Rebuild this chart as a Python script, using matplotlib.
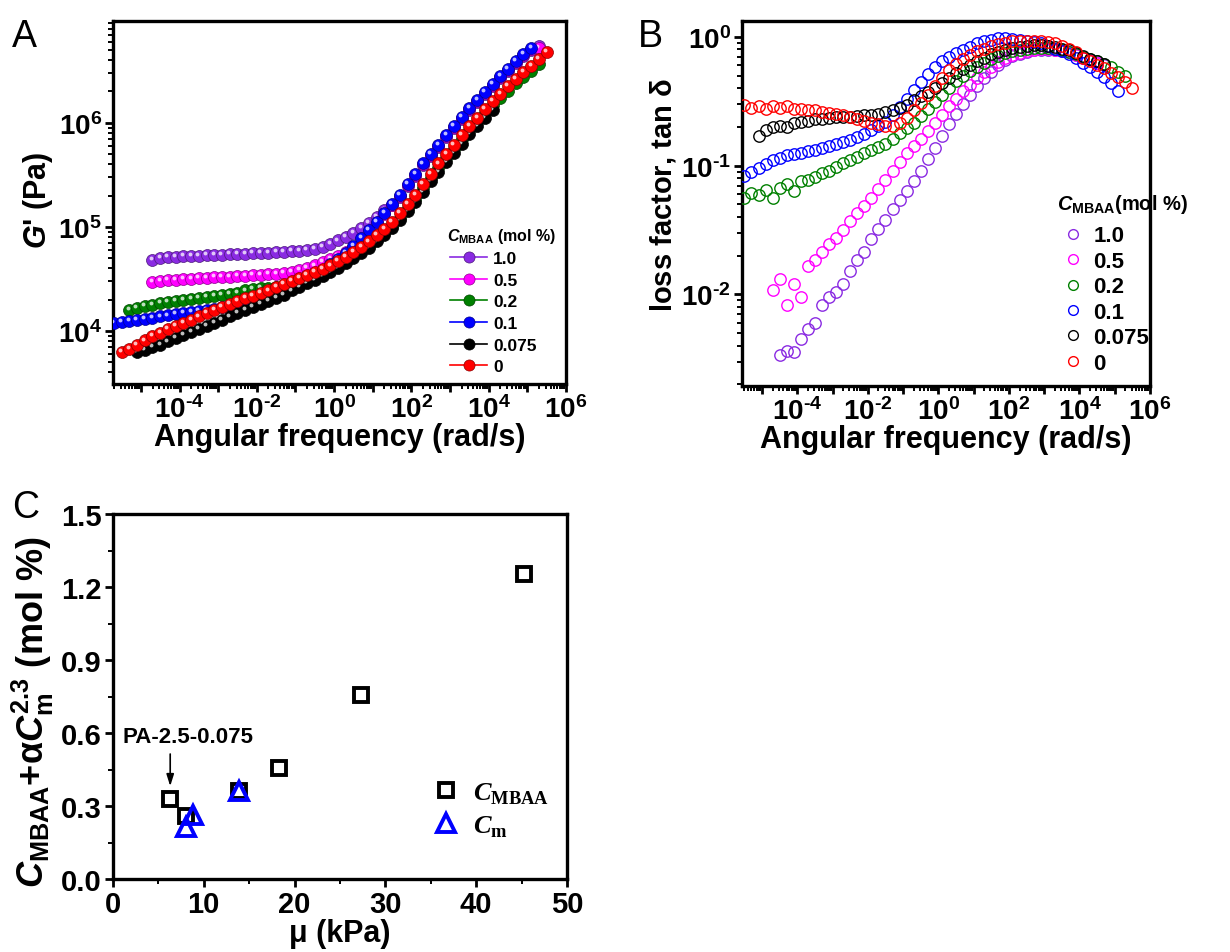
import numpy as np
import matplotlib
matplotlib.use("Agg")
import matplotlib.pyplot as plt
from matplotlib.lines import Line2D
from matplotlib import ticker, transforms
from matplotlib.colors import to_rgb

plt.rcParams['font.family'] = ['Liberation Sans', 'DejaVu Sans']
plt.rcParams['font.weight'] = 'bold'
plt.rcParams['mathtext.fontset'] = 'custom'
plt.rcParams['mathtext.rm'] = 'Liberation Sans:bold'
plt.rcParams['mathtext.bf'] = 'Liberation Sans:bold'
plt.rcParams['mathtext.it'] = 'Liberation Sans:bold:italic'
plt.rcParams['mathtext.cal'] = 'Liberation Serif:italic'
plt.rcParams['mathtext.tt'] = 'Liberation Serif:bold'

# shared log10 angular frequency column (rad/s)
LOGW = [-5.7, -5.5, -5.3, -5.1, -4.9, -4.7, -4.5, -4.3, -4.1, -3.9,
        -3.7, -3.5, -3.3, -3.1, -2.9, -2.7, -2.5, -2.3, -2.1, -1.9,
        -1.7, -1.5, -1.3, -1.1, -0.9, -0.7, -0.5, -0.3, -0.1, 0.1,
        0.3, 0.5, 0.7, 0.9, 1.1, 1.3, 1.5, 1.7, 1.9, 2.1,
        2.3, 2.5, 2.7, 2.9, 3.1, 3.3, 3.5, 3.7, 3.9, 4.1,
        4.3, 4.5, 4.7, 4.9, 5.1, 5.3, 5.5]

labels = ['1.0', '0.5', '0.2', '0.1', '0.075', '0']
colors = ['#8a2be2', '#ff00ff', '#008000', '#0000ff', '#000000', '#ff0000']

# panel A: log10 G' (Pa)
logG_10 = [None, None, None, None, None, 4.68, 4.70, 4.71, 4.71, 4.72,
           4.72, 4.72, 4.73, 4.73, 4.73, 4.74, 4.74, 4.74, 4.75, 4.75,
           4.75, 4.76, 4.76, 4.77, 4.77, 4.78, 4.79, 4.81, 4.84, 4.87,
           4.90, 4.94, 4.99, 5.04, 5.10, 5.16, 5.21, 5.29, 5.39, 5.49,
           5.59, 5.68, 5.77, 5.86, 5.95, 6.04, 6.12, 6.20, 6.28, 6.35,
           6.43, 6.50, 6.57, 6.64, 6.70, 6.74, None]
logG_05 = [None, None, None, None, None, 4.47, 4.48, 4.49, 4.49, 4.50,
           4.50, 4.51, 4.51, 4.52, 4.52, 4.52, 4.53, 4.53, 4.54, 4.54,
           4.55, 4.55, 4.56, 4.57, 4.59, 4.61, 4.63, 4.66, 4.69, 4.72,
           4.76, 4.81, 4.88, 4.96, 5.04, 5.12, 5.21, 5.30, 5.40, 5.50,
           5.60, 5.69, 5.78, 5.87, 5.96, 6.05, 6.13, 6.21, 6.29, 6.36,
           6.44, 6.51, 6.58, 6.65, 6.71, 6.72, None]
logG_02 = [None, None, 4.20, 4.22, 4.24, 4.25, 4.27, 4.28, 4.29, 4.30,
           4.31, 4.32, 4.33, 4.34, 4.35, 4.36, 4.37, 4.39, 4.40, 4.41,
           4.41, 4.42, 4.44, 4.46, 4.48, 4.51, 4.54, 4.57, 4.60, 4.64,
           4.68, 4.73, 4.77, 4.82, 4.88, 4.94, 5.01, 5.09, 5.18, 5.27,
           5.37, 5.47, 5.57, 5.66, 5.75, 5.84, 5.93, 6.01, 6.09, 6.17,
           6.24, 6.31, 6.38, 6.44, 6.50, 6.56, None]
logG_01 = [4.08, 4.09, 4.10, 4.11, 4.12, 4.13, 4.14, 4.15, 4.16, 4.17,
           4.18, 4.19, 4.20, 4.21, 4.23, 4.25, 4.27, 4.29, 4.31, 4.33,
           4.36, 4.38, 4.41, 4.44, 4.47, 4.51, 4.55, 4.59, 4.64, 4.69,
           4.75, 4.82, 4.89, 4.97, 5.05, 5.13, 5.22, 5.31, 5.41, 5.51,
           5.61, 5.70, 5.79, 5.88, 5.97, 6.06, 6.14, 6.22, 6.30, 6.37,
           6.45, 6.52, 6.59, 6.66, 6.72, None, None]
logG_0075 = [None, None, None, 3.80, 3.82, 3.85, 3.87, 3.90, 3.93, 3.96,
             3.99, 4.02, 4.05, 4.08, 4.11, 4.14, 4.17, 4.20, 4.23, 4.26,
             4.29, 4.32, 4.35, 4.39, 4.42, 4.46, 4.49, 4.53, 4.57, 4.61,
             4.65, 4.70, 4.75, 4.80, 4.86, 4.92, 4.99, 5.07, 5.15, 5.24,
             5.34, 5.44, 5.53, 5.62, 5.71, 5.80, 5.89, 5.97, 6.05, 6.12,
             None, None, None, None, None, None, None]
logG_0 = [None, 3.80, 3.83, 3.87, 3.91, 3.95, 3.98, 4.02, 4.05, 4.08,
          4.11, 4.14, 4.17, 4.20, 4.23, 4.26, 4.29, 4.32, 4.34, 4.37,
          4.39, 4.42, 4.45, 4.48, 4.51, 4.54, 4.57, 4.60, 4.63, 4.67,
          4.71, 4.76, 4.81, 4.86, 4.92, 4.98, 5.05, 5.13, 5.22, 5.31,
          5.41, 5.51, 5.61, 5.70, 5.79, 5.88, 5.97, 6.05, 6.13, 6.21,
          6.28, 6.35, 6.42, 6.49, 6.55, 6.61, 6.68]

# panel B: log10 tan delta
logT_10 = [None, None, None, None, None, None, -2.47, -2.44, -2.45, -2.35,
           -2.27, -2.22, -2.08, -2.02, -1.98, -1.92, -1.82, -1.73, -1.67, -1.57,
           -1.49, -1.42, -1.34, -1.27, -1.20, -1.12, -1.04, -0.95, -0.86, -0.77,
           -0.68, -0.60, -0.52, -0.45, -0.38, -0.32, -0.27, -0.22, -0.18, -0.15,
           -0.13, -0.115, -0.105, -0.10, -0.10, -0.103, -0.11, -0.12, -0.14, -0.16,
           -0.18, -0.20, -0.22, None, None, None, None]
logT_05 = [None, None, None, None, None, -1.97, -1.88, -2.08, -1.92, -2.02,
           -1.78, -1.73, -1.67, -1.61, -1.56, -1.50, -1.43, -1.37, -1.31, -1.25,
           -1.18, -1.11, -1.04, -0.97, -0.905, -0.85, -0.79, -0.73, -0.67, -0.61,
           -0.54, -0.48, -0.42, -0.37, -0.32, -0.27, -0.23, -0.195, -0.165, -0.14,
           -0.122, -0.108, -0.10, -0.095, -0.095, -0.10, -0.107, -0.12, -0.14, -0.16,
           -0.18, -0.20, None, None, None, None, None]
logT_02 = [None, -1.25, -1.21, -1.23, -1.19, -1.25, -1.17, -1.14, -1.20, -1.12,
           -1.11, -1.09, -1.06, -1.04, -1.01, -0.98, -0.955, -0.93, -0.905, -0.88,
           -0.855, -0.83, -0.795, -0.75, -0.71, -0.665, -0.615, -0.56, -0.505, -0.45,
           -0.395, -0.345, -0.30, -0.265, -0.23, -0.20, -0.17, -0.145, -0.125, -0.11,
           -0.10, -0.093, -0.088, -0.086, -0.087, -0.092, -0.10, -0.115, -0.135, -0.155,
           -0.17, -0.19, -0.21, -0.235, -0.27, -0.30, None]
logT_01 = [None, -1.08, -1.05, -1.02, -0.99, -0.96, -0.94, -0.92, -0.91, -0.90,
           -0.89, -0.88, -0.86, -0.845, -0.83, -0.815, -0.80, -0.78, -0.755, -0.72,
           -0.69, -0.66, -0.61, -0.545, -0.48, -0.41, -0.35, -0.29, -0.23, -0.19,
           -0.155, -0.125, -0.10, -0.08, -0.05, -0.035, -0.02, -0.012, -0.01, -0.014,
           -0.02, -0.028, -0.036, -0.05, -0.068, -0.09, -0.11, -0.135, -0.165, -0.20,
           -0.23, -0.27, -0.31, -0.36, -0.42, None, None]
logT_0075 = [None, None, None, -0.77, -0.72, -0.70, -0.69, -0.70, -0.67, -0.66,
             -0.65, -0.64, -0.635, -0.63, -0.625, -0.62, -0.62, -0.615, -0.61, -0.605,
             -0.595, -0.585, -0.57, -0.55, -0.525, -0.49, -0.46, -0.43, -0.40, -0.36,
             -0.32, -0.28, -0.25, -0.22, -0.19, -0.16, -0.135, -0.115, -0.10, -0.085,
             -0.075, -0.068, -0.064, -0.064, -0.068, -0.078, -0.09, -0.105, -0.125, -0.15,
             -0.17, -0.19, -0.21, None, None, None, None]
logT_0 = [None, -0.53, -0.55, -0.54, -0.56, -0.54, -0.55, -0.54, -0.56, -0.56,
          -0.57, -0.57, -0.58, -0.59, -0.60, -0.61, -0.62, -0.64, -0.65, -0.67,
          -0.68, -0.69, -0.69, -0.67, -0.63, -0.57, -0.51, -0.45, -0.38, -0.32,
          -0.26, -0.21, -0.17, -0.14, -0.11, -0.09, -0.07, -0.055, -0.045, -0.035,
          -0.03, -0.028, -0.029, -0.033, -0.04, -0.05, -0.07, -0.09, -0.12, -0.16,
          -0.19, -0.22, -0.24, -0.28, -0.31, -0.35, -0.40]

# panel C
mu_mbaa = [6.3, 8.0, 13.9, 18.3, 27.3, 45.3]
c_mbaa = [0.33, 0.26, 0.36, 0.455, 0.755, 1.255]
mu_m = [8.0, 8.85, 13.9]
c_m = [0.215, 0.263, 0.362]

G_series = [logG_10, logG_05, logG_02, logG_01, logG_0075, logG_0]
T_series = [logT_10, logT_05, logT_02, logT_01, logT_0075, logT_0]

W, H = 1230, 953
fig = plt.figure(figsize=(W / 100, H / 100), dpi=100)
axA = fig.add_axes([113 / W, 1 - 385 / H, 453 / W, 363 / H])
axB = fig.add_axes([742 / W, 1 - 387 / H, 408 / W, 365 / H])
axC = fig.add_axes([113 / W, 1 - 880 / H, 454 / W, 365 / H])

w = 10 ** np.array(LOGW)


def pow_label(e):
    if e < 0:
        return r'$\mathbf{10^{\text{-}%d}}$' % (-e)
    return r'$\mathbf{10^{%d}}$' % e


def even_pow(v, pos):
    e = int(round(np.log10(v)))
    if e % 2:
        return ''
    return pow_label(e)


def all_pow(v, pos):
    return pow_label(int(round(np.log10(v))))


def style_axes(ax):
    for s in ax.spines.values():
        s.set_linewidth(2.4)
    ax.tick_params(which='major', direction='out', length=6, width=2,
                   labelsize=20, pad=2)
    ax.tick_params(which='minor', direction='out', length=3.5, width=1.4)


def log_axes(ax):
    ax.set_xscale('log')
    ax.set_yscale('log')
    for axis in (ax.xaxis, ax.yaxis):
        axis.set_major_locator(ticker.LogLocator(base=10, subs=(1.0,), numticks=30))
        axis.set_minor_locator(ticker.LogLocator(base=10, subs=np.arange(2, 10), numticks=30))
        axis.set_minor_formatter(ticker.NullFormatter())
    ax.xaxis.set_major_formatter(ticker.FuncFormatter(even_pow))
    ax.yaxis.set_major_formatter(ticker.FuncFormatter(all_pow))


# ---------------- panel A ----------------
log_axes(axA)
axA.set_xlim(1.9e-6, 1e6)
axA.set_ylim(3.1e3, 9.5e6)
shine = transforms.offset_copy(axA.transData, fig=fig, x=-1.6, y=1.9, units='dots')
handlesA = []
for k, (vals, c) in enumerate(zip(G_series, colors)):
    g = 10 ** np.array(vals, dtype=float)
    dark = tuple(np.array(to_rgb(c)) * 0.55)
    axA.plot(w, g, ls='none', marker='o', ms=8.6, mfc=c, mec=dark, mew=0.5, zorder=2 + 2 * k)
    axA.plot(w, g, ls='none', marker='o', ms=2.8, mfc='white', mec='none', alpha=0.75,
             transform=shine, zorder=2.5 + 2 * k)
    handlesA.append(Line2D([], [], color=c, lw=1.2, marker='o', ms=8, mfc=c, mec=dark, mew=0.5))
style_axes(axA)
axA.set_xlabel('Angular frequency (rad/s)', fontsize=22, fontweight='bold', labelpad=-1)
axA.set_ylabel(r"$G$' (Pa)", fontsize=22, fontweight='bold', labelpad=2)
axA.yaxis.label.set_y(0.51)
axA.legend(handlesA, labels, loc='upper left', bbox_to_anchor=(0.744, 0.366),
           frameon=False, prop={'size': 12.5, 'weight': 'bold'},
           handlelength=2.13, handletextpad=0.35, labelspacing=0.37, borderpad=0, borderaxespad=0)
axA.text((447 - 113) / 453, (385 - 237) / 363, r'$C_{\mathbf{MBAA}}$ (mol %)', transform=axA.transAxes,
         fontsize=11.5, fontweight='bold', ha='left', va='center')

# ---------------- panel B ----------------
log_axes(axB)
axB.set_xlim(2.7e-6, 1e6)
axB.set_ylim(1.94e-3, 1.33)
handlesB = []
for k, (vals, c) in enumerate(zip(T_series, colors)):
    t = 10 ** np.array(vals, dtype=float)
    axB.plot(w, t, ls='none', marker='o', ms=8.2, mfc='none', mec=c, mew=1.0, zorder=2 + k)
    handlesB.append(Line2D([], [], ls='none', marker='o', ms=7, mfc='none', mec=c, mew=1.0))
style_axes(axB)
axB.set_xlabel('Angular frequency (rad/s)', fontsize=22, fontweight='bold', labelpad=-1)
axB.set_ylabel(r'loss factor, tan $\mathrm{\delta}$', fontsize=21, fontweight='bold', labelpad=2)
axB.yaxis.label.set_y(0.525)
axB.legend(handlesB, labels, loc='upper left', bbox_to_anchor=(0.779, 0.44),
           frameon=False, prop={'size': 16, 'weight': 'bold'},
           handlelength=1.2, handletextpad=0.3, labelspacing=0.2, borderpad=0, borderaxespad=0)
axB.text((1057 - 742) / 408, (387 - 205) / 365, r'$C_{\mathbf{MBAA}}$(mol %)', transform=axB.transAxes,
         fontsize=14.5, fontweight='bold', ha='left', va='center')

# ---------------- panel C ----------------
axC.plot(mu_mbaa, c_mbaa, ls='none', marker='s', ms=10, mfc='none', mec='black', mew=2.8, zorder=3)
axC.plot(mu_m, c_m, ls='none', marker='^', ms=13, mfc='none', mec='#0000ff', mew=2.8, zorder=4)
axC.set_xlim(0, 50)
axC.set_ylim(0, 1.5)
axC.xaxis.set_major_locator(ticker.MultipleLocator(10))
axC.xaxis.set_minor_locator(ticker.MultipleLocator(5))
axC.yaxis.set_major_locator(ticker.MultipleLocator(0.3))
axC.yaxis.set_minor_locator(ticker.MultipleLocator(0.15))
axC.yaxis.set_major_formatter(ticker.FormatStrFormatter('%.1f'))
style_axes(axC)
axC.tick_params(which='major', labelsize=21)
axC.set_xlabel('\u03bc (kPa)', fontsize=22, fontweight='bold', labelpad=0)
axC.set_ylabel(r'$C_{\mathbf{MBAA}}$+$\mathrm{\alpha}C_{\mathbf{m}}^{\mathbf{2.3}}$ (mol %)',
               fontsize=26, fontweight='bold', labelpad=4)
axC.yaxis.label.set_y(0.46)
axC.annotate('', xy=(6.3, 0.37), xytext=(6.3, 0.525),
             arrowprops=dict(arrowstyle='-|>,head_width=0.22,head_length=0.7', color='black', lw=1.2))
axC.text(8.3, 0.585, 'PA-2.5-0.075', ha='center', va='center', fontsize=16, fontweight='bold')
handlesC = [Line2D([], [], ls='none', marker='s', ms=10, mfc='none', mec='black', mew=2.8),
            Line2D([], [], ls='none', marker='^', ms=13, mfc='none', mec='#0000ff', mew=2.8)]
axC.legend(handlesC, [r'$\mathcal{C}_{\mathtt{MBAA}}$', r'$\mathcal{C}_{\mathtt{m}}$'],
           loc='center left', bbox_to_anchor=(0.698, 0.19), frameon=False,
           prop={'size': 19}, handlelength=1.2, handletextpad=0.45, labelspacing=0.3,
           borderpad=0, borderaxespad=0)

# panel letters
fig.text(12 / W, 1 - 47 / H, 'A', fontsize=27, fontweight='normal')
fig.text(638 / W, 1 - 47 / H, 'B', fontsize=27, fontweight='normal')
fig.text(12 / W, 1 - 518 / H, 'C', fontsize=27, fontweight='normal')

fig.savefig('out.png', dpi=100)
